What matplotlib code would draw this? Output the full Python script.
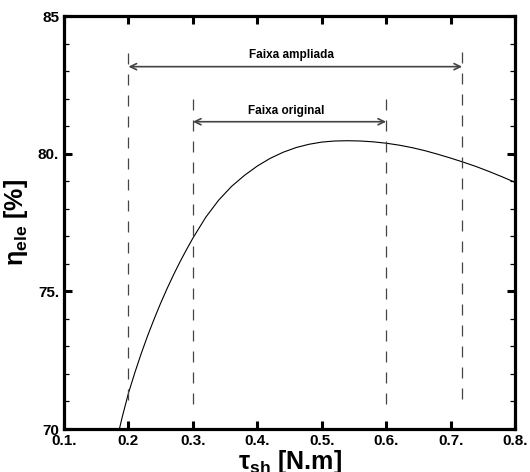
import matplotlib
matplotlib.use("Agg")
import matplotlib.pyplot as plt
from matplotlib.ticker import MultipleLocator, FixedLocator

plt.rcParams['font.family'] = ['Liberation Sans', 'DejaVu Sans']
plt.rcParams['mathtext.fontset'] = 'custom'
plt.rcParams['mathtext.rm'] = 'Liberation Sans'
plt.rcParams['mathtext.bf'] = 'Liberation Sans:bold'
plt.rcParams['mathtext.it'] = 'Liberation Sans:italic'

# Efficiency curve
torque = [0.186, 0.19, 0.20, 0.21, 0.22, 0.23, 0.24, 0.25, 0.26, 0.27, 0.28, 0.29,
          0.30, 0.32, 0.34, 0.36, 0.38, 0.40, 0.42, 0.44, 0.46, 0.48, 0.50, 0.52,
          0.54, 0.56, 0.58, 0.60, 0.62, 0.64, 0.66, 0.68, 0.70, 0.72, 0.74, 0.76,
          0.78, 0.80]
efficiency = [70.0, 70.4, 71.3, 72.05, 72.75, 73.4, 74.0, 74.57, 75.1, 75.6, 76.07, 76.51,
              76.93, 77.69, 78.31, 78.81, 79.21, 79.55, 79.83, 80.05, 80.22, 80.34, 80.42, 80.46,
              80.47, 80.46, 80.43, 80.38, 80.31, 80.22, 80.11, 79.98, 79.84, 79.69, 79.53, 79.35,
              79.16, 78.96]

# Ranges
orig_range = [0.30, 0.60]
wide_range = [0.20, 0.718]
orig_label = "Faixa original"
wide_label = "Faixa ampliada"

xticks = [0.1, 0.2, 0.3, 0.4, 0.5, 0.6, 0.7, 0.8]
xticklabels = ["0.1.", "0.2", "0.3.", "0.4.", "0.5.", "0.6.", "0.7.", "0.8."]
yticks = [70, 75, 80, 85]
yticklabels = ["70", "75.", "80.", "85"]

fig = plt.figure(figsize=(5.3, 4.72), dpi=100)
ax = fig.add_axes([64/530, 1-429/472, 451/530, 413/472])

ax.plot(torque, efficiency, color='black', lw=0.8)

dash_kw = dict(color='#444444', lw=0.9, linestyle=(0, (8.8, 8.0)))
ax.plot([wide_range[0]]*2, [83.67, 71.0], **dash_kw)
ax.plot([wide_range[1]]*2, [83.70, 71.1], **dash_kw)
ax.plot([orig_range[0]]*2, [82.0, 70.8], **dash_kw)
ax.plot([orig_range[1]]*2, [82.0, 70.8], **dash_kw)

arrow_kw = dict(arrowstyle='<->,head_length=0.45,head_width=0.22', color='#444444',
                lw=1.2, shrinkA=0, shrinkB=0)
ax.annotate('', xy=(wide_range[1], 83.16), xytext=(wide_range[0], 83.16), arrowprops=arrow_kw)
ax.annotate('', xy=(orig_range[1], 81.16), xytext=(orig_range[0], 81.16), arrowprops=arrow_kw)
ax.text(0.453, 83.6, wide_label, ha='center', va='center', fontsize=8.5, fontweight='bold')
ax.text(0.445, 81.55, orig_label, ha='center', va='center', fontsize=8.5, fontweight='bold')

ax.set_xlim(0.1, 0.8)
ax.set_ylim(70, 85)
ax.xaxis.set_major_locator(FixedLocator(xticks))
ax.set_xticklabels(xticklabels)
ax.yaxis.set_major_locator(FixedLocator(yticks))
ax.set_yticklabels(yticklabels)
ax.yaxis.set_minor_locator(MultipleLocator(1))

for sp in ax.spines.values():
    sp.set_linewidth(2.3)

ax.tick_params(axis='both', which='major', direction='in', length=6, width=2.2,
               top=True, right=True, labelsize=11, pad=3.5)
ax.tick_params(axis='y', which='minor', direction='in', length=3.8, width=0.9,
               left=True, right=True)
for lab in ax.get_xticklabels() + ax.get_yticklabels():
    lab.set_fontweight('bold')

ax.set_xlabel(r"τ$_{\mathbf{sh}}$ [N.m]", fontsize=18, fontweight='bold')
ax.xaxis.set_label_coords(0.5, -0.045)
ax.set_ylabel(r"η$_{\mathbf{ele}}$ [%]", fontsize=18, fontweight='bold')
ax.yaxis.set_label_coords(-0.075, 0.5)

fig.savefig("out.png", dpi=100)
